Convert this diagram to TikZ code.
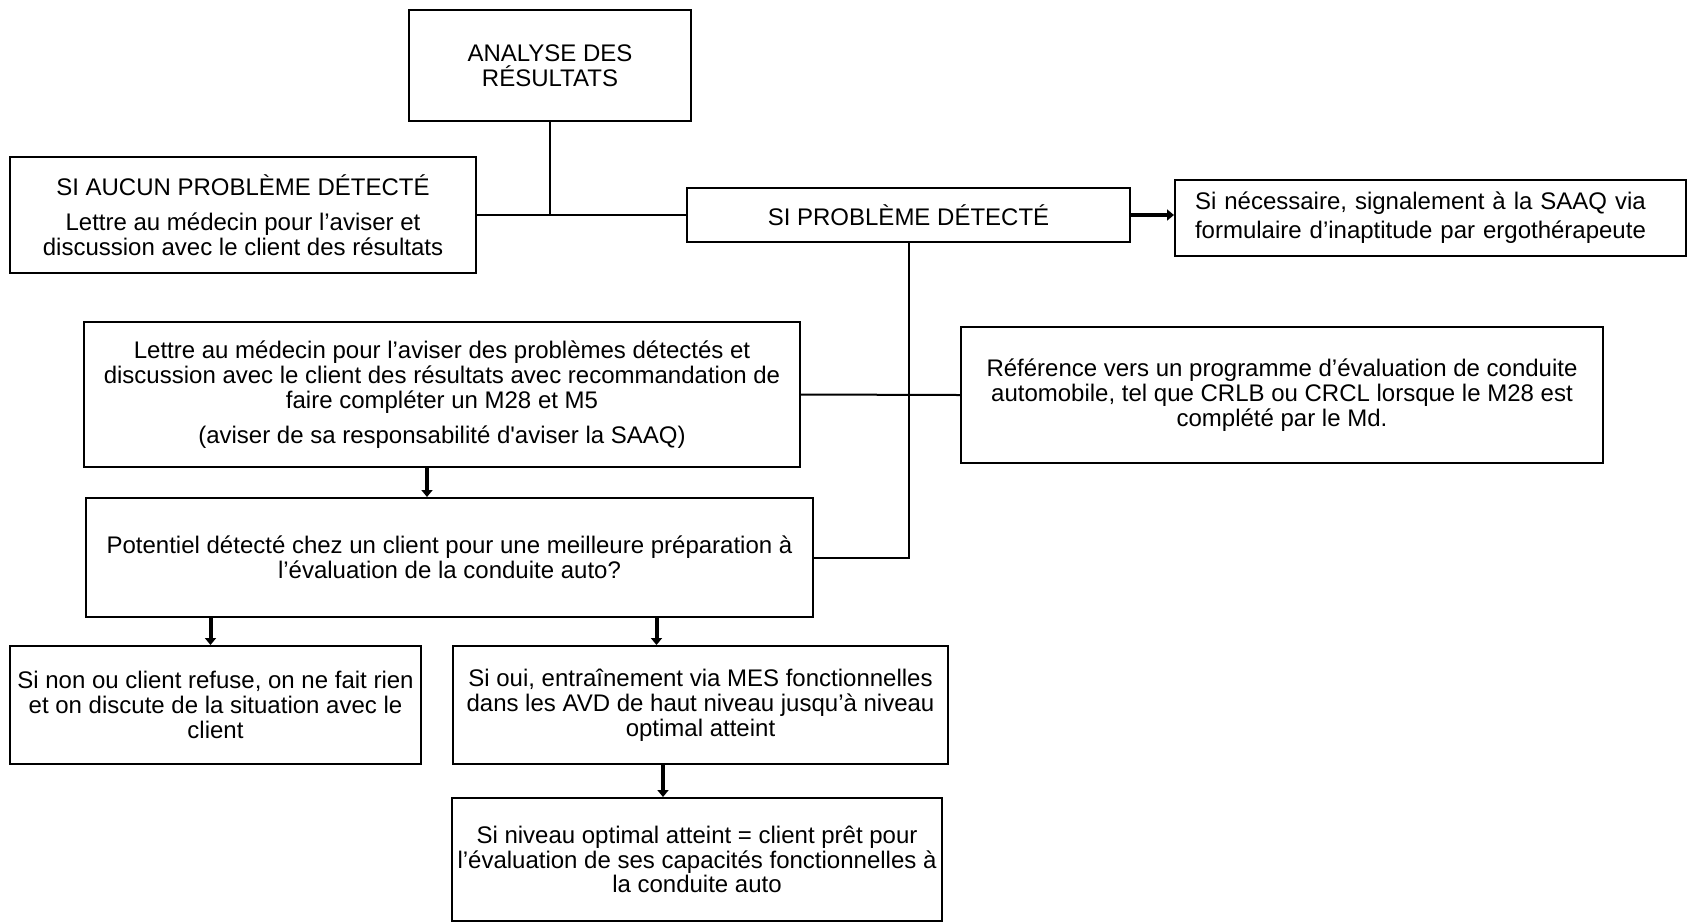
\documentclass[tikz,border=0pt]{standalone}
\usepackage{fontspec}
\setmainfont{Liberation Sans}[Ligatures=TeXOff]
\usepackage{tikz}
\usetikzlibrary{arrows.meta,positioning,calc}

\begin{document}
\begin{tikzpicture}[x=0.5pt, y=0.5pt,
box/.style={rectangle, draw, line width=1pt, inner sep=0pt, align=center, font=\fontsize{12}{12.4}\selectfont},
link/.style={line width=1pt},
arrow/.style={-{Triangle[length=3.5pt, width=5.5pt]}, line width=2pt}
]
\useasboundingbox (0,0) rectangle (1688,-923);

% Top level
\node[box, minimum width=141pt, minimum height=55.5pt] (analyse) at (550,-65.5) {ANALYSE DES\\RÉSULTATS};

% First split
\node[box, minimum width=233pt, minimum height=58pt] (aucun) at (243,-215) {SI AUCUN PROBLÈME DÉTECTÉ\\[5pt]Lettre au médecin pour l’aviser et\\discussion avec le client des résultats};
\node[box, minimum width=221.5pt, minimum height=27pt] (probleme) at (908.5,-215) {SI PROBLÈME DÉTECTÉ};
\node[box, minimum width=255.5pt, minimum height=38pt, align=left, inner xsep=10pt, text width=235.5pt,
  font=\fontsize{12}{14.5}\selectfont] (saaq) at (1430.5,-218) {Si nécessaire, signalement à la SAAQ via\\formulaire d’inaptitude par ergothérapeute};

% Problem branch
\node[box, minimum width=358pt, minimum height=72.5pt] (lettre) at (442,-394.5) {Lettre au médecin pour l’aviser des problèmes détectés et\\discussion avec le client des résultats avec recommandation de\\faire compléter un M28 et M5\\[5pt](aviser de sa responsabilité d'aviser la SAAQ)};
\node[box, minimum width=321pt, minimum height=68pt] (reference) at (1282,-395) {Référence vers un programme d’évaluation de conduite\\automobile, tel que CRLB ou CRCL lorsque le M28 est\\complété par le Md.};
\node[box, minimum width=363.5pt, minimum height=59.5pt] (potentiel) at (449.5,-557.5) {Potentiel détecté chez un client pour une meilleure préparation à\\l’évaluation de la conduite auto?};

% Outcomes
\node[box, minimum width=205.5pt, minimum height=59pt] (sinon) at (215.5,-705) {Si non ou client refuse, on ne fait rien\\et on discute de la situation avec le\\client};
\node[box, minimum width=247.5pt, minimum height=59pt] (sioui) at (700.5,-705) {Si oui, entraînement via MES fonctionnelles\\dans les AVD de haut niveau jusqu’à niveau\\optimal atteint};
\node[box, minimum width=245pt, minimum height=61.5pt] (niveau) at (697,-859.5) {Si niveau optimal atteint = client prêt pour\\l’évaluation de ses capacités fonctionnelles à\\la conduite auto};

% Plain connectors
\draw[link] (analyse.south) -- (analyse.south |- aucun.east);
\draw[link] (aucun.east) -- (probleme.west);
\draw[link] (probleme.south) |- (potentiel.east);
\draw[link] (lettre.east) -- (reference.west);

% Arrows
\draw[arrow] (probleme.east) -- (probleme.east -| saaq.west);
\draw[arrow] ($(lettre.south)+(-15,0)$) -- ($(lettre.south |- potentiel.north)+(-15,0)$);
\draw[arrow] ($(sinon.north |- potentiel.south)+(-5,0)$) -- ($(sinon.north)+(-5,0)$);
\draw[arrow] ($(sioui.north |- potentiel.south)+(-44,0)$) -- ($(sioui.north)+(-44,0)$);
\draw[arrow] ($(niveau.north |- sioui.south)+(-34,0)$) -- ($(niveau.north)+(-34,0)$);

\end{tikzpicture}
\end{document}
